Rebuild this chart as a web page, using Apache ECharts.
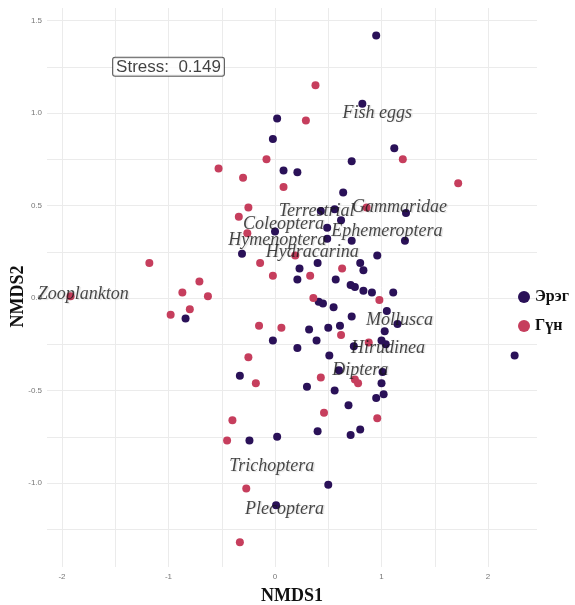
<!DOCTYPE html>
<html>
<head>
<meta charset="utf-8">
<title>NMDS</title>
<script src="https://cdn.jsdelivr.net/npm/echarts@6/dist/echarts.min.js"></script>
<style>
  html, body { margin: 0; padding: 0; background: #fff; }
  #chart { width: 575px; height: 605px; }
</style>
</head>
<body>
<div id="chart"></div>
<script>
// site scores, [NMDS1, NMDS2]
const shoreSites = [
  [0.95, 1.42], [0.82, 1.05], [0.02, 0.97], [-0.02, 0.86], [1.12, 0.81], [0.72, 0.74],
  [0.08, 0.69], [0.21, 0.68], [0.64, 0.57], [0.00, 0.36], [-0.31, 0.24], [-0.84, -0.11],
  [-0.02, -0.23], [-0.33, -0.42], [0.43, 0.47], [0.56, 0.48], [1.23, 0.46], [0.62, 0.42],
  [0.49, 0.38], [0.49, 0.32], [0.72, 0.31], [1.22, 0.31], [0.96, 0.23], [0.40, 0.19],
  [0.80, 0.19], [0.23, 0.16], [0.83, 0.15], [0.57, 0.10], [0.21, 0.10], [0.71, 0.07],
  [0.75, 0.06], [0.83, 0.04], [0.91, 0.03], [1.11, 0.03], [0.41, -0.02], [0.45, -0.03],
  [0.55, -0.05], [1.05, -0.07], [0.72, -0.10], [1.15, -0.14], [0.32, -0.17], [0.50, -0.16],
  [0.61, -0.15], [1.03, -0.18], [0.39, -0.23], [1.00, -0.23], [0.21, -0.27], [0.74, -0.26],
  [1.04, -0.25], [0.51, -0.31], [2.25, -0.31], [0.60, -0.39], [1.01, -0.40], [0.30, -0.48],
  [1.00, -0.46], [0.56, -0.50], [1.02, -0.52], [0.95, -0.54], [0.69, -0.58], [0.40, -0.72],
  [0.71, -0.74], [0.80, -0.71], [0.50, -1.01], [-0.24, -0.77], [0.02, -0.75], [0.01, -1.12]
];
const deepSites = [
  [0.38, 1.15], [0.29, 0.96], [-0.08, 0.75], [-0.53, 0.70], [-0.30, 0.65], [0.08, 0.60],
  [1.20, 0.75], [1.72, 0.62], [-0.25, 0.49], [-0.34, 0.44], [-0.26, 0.35], [-0.14, 0.19],
  [-1.18, 0.19], [-0.02, 0.12], [-0.71, 0.09], [-0.87, 0.03], [-0.63, 0.01], [-0.80, -0.06],
  [-0.98, -0.09], [-0.15, -0.15], [0.06, -0.16], [-0.25, -0.32], [-0.18, -0.46], [0.19, 0.23],
  [0.33, 0.12], [0.36, 0.00], [0.86, 0.49], [0.63, 0.16], [0.98, -0.01], [0.62, -0.20],
  [0.88, -0.24], [0.43, -0.43], [0.75, -0.44], [0.78, -0.46], [0.46, -0.62], [0.96, -0.65],
  [-0.40, -0.66], [-0.45, -0.77], [-0.27, -1.03], [-0.33, -1.32], [-1.92, 0.01]
];

// species scores
const speciesNames = [
  'Fish eggs', 'Gammaridae', 'Terrestrial', 'Coleoptera', 'Ephemeroptera', 'Hymenoptera',
  'Hydracarina', 'Zooplankton', 'Mollusca', 'Hirudinea', 'Diptera', 'Trichoptera', 'Plecoptera'
];
const speciesX = [0.96, 1.17, 0.39, 0.08, 1.05, 0.02, 0.35, -1.80, 1.17, 1.06, 0.80, -0.03, 0.09];
const speciesY = [1.00, 0.49, 0.47, 0.40, 0.36, 0.31, 0.25, 0.02, -0.12, -0.27, -0.39, -0.91, -1.14];

const groupNames = ['Эрэг', 'Гүн'];
const stressValue = 0.149;
const stressAt = [-1, 1.25];

const serif = '"Liberation Serif", "DejaVu Serif", serif';
const gridColor = '#ebebeb';

const chart = echarts.init(document.getElementById('chart'));

chart.setOption({
  backgroundColor: '#fff',
  animation: false,
  grid: { left: 47, right: 38, top: 8, bottom: 38, outerBoundsMode: 'none' },
  legend: {
    data: groupNames,
    orient: 'vertical',
    left: 513,
    top: 284,
    itemGap: 13,
    itemWidth: 12,
    itemHeight: 12,
    icon: 'circle',
    textStyle: { fontFamily: serif, fontWeight: 'bold', fontSize: 16, color: '#111' }
  },
  xAxis: {
    type: 'value',
    min: -2.141,
    max: 2.46,
    splitNumber: 5,
    name: 'NMDS1',
    nameLocation: 'middle',
    nameGap: 20,
    nameMoveOverlap: false,
    nameTextStyle: { fontFamily: serif, fontWeight: 'bold', fontSize: 18, color: '#111' },
    axisLine: { show: false },
    axisTick: { show: false },
    axisLabel: {
      fontSize: 8,
      color: '#777',
      margin: 6,
      formatter: v => (Math.abs(v - Math.round(v)) < 1e-6 ? String(Math.round(v)) : '')
    },
    splitLine: { show: true, showMinLine: false, showMaxLine: false, lineStyle: { color: gridColor, width: 1 } },
    minorTick: { show: false, splitNumber: 2 },
    minorSplitLine: { show: true, lineStyle: { color: gridColor, width: 1 } }
  },
  yAxis: {
    type: 'value',
    min: -1.454,
    max: 1.568,
    splitNumber: 6,
    name: 'NMDS2',
    nameLocation: 'middle',
    nameGap: 20,
    nameMoveOverlap: false,
    nameTextStyle: { fontFamily: serif, fontWeight: 'bold', fontSize: 18, color: '#111', padding: [0, 18, 0, 0] },
    axisLine: { show: false },
    axisTick: { show: false },
    axisLabel: {
      fontSize: 8,
      color: '#777',
      margin: 5,
      formatter: v => (Math.abs(v * 2 - Math.round(v * 2)) < 1e-6 ? v.toFixed(1) : '')
    },
    splitLine: { show: true, showMinLine: false, showMaxLine: false, lineStyle: { color: gridColor, width: 1 } },
    minorTick: { show: false, splitNumber: 2 },
    minorSplitLine: { show: true, lineStyle: { color: gridColor, width: 1 } }
  },
  series: [
    {
      name: groupNames[0],
      type: 'scatter',
      symbolSize: 8,
      itemStyle: { color: '#2a1158', opacity: 1 },
      data: shoreSites
    },
    {
      name: groupNames[1],
      type: 'scatter',
      symbolSize: 8,
      itemStyle: { color: '#c63e5d', opacity: 1 },
      data: deepSites
    },
    {
      // species labels
      name: 'species',
      type: 'scatter',
      symbolSize: 0,
      silent: true,
      z: 5,
      label: {
        show: true,
        position: 'inside',
        formatter: p => p.name,
        fontFamily: serif,
        fontStyle: 'italic',
        fontSize: 18,
        color: '#161616',
        textShadowColor: 'rgba(0,0,0,0.15)',
        textShadowBlur: 1,
        textShadowOffsetX: 1.5,
        textShadowOffsetY: 0.5
      },
      data: speciesNames.map((n, i) => ({ name: n, value: [speciesX[i], speciesY[i]] }))
    },
    {
      // stress annotation
      name: 'stress',
      type: 'scatter',
      symbolSize: 0,
      silent: true,
      z: 6,
      label: {
        show: true,
        position: 'inside',
        formatter: 'Stress:  ' + stressValue,
        fontFamily: 'Arial, "Liberation Sans", sans-serif',
        fontSize: 17,
        color: '#111',
        backgroundColor: '#fff',
        borderColor: '#333',
        borderWidth: 1,
        borderRadius: 2,
        padding: [1, 3, 0, 3]
      },
      data: [stressAt]
    }
  ]
});
</script>
</body>
</html>
